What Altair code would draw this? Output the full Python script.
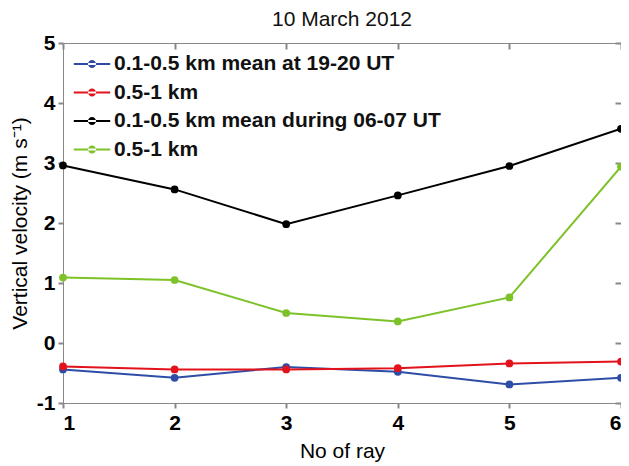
import altair as alt
import pandas as pd

rays = [1, 2, 3, 4, 5, 6]
yticks = [-1, 0, 1, 2, 3, 4, 5]
series_names = ["0.1-0.5 km mean at 19-20 UT", "0.5-1 km", "0.1-0.5 km mean during 06-07 UT", "0.5-1 km "]
series_colors = ["#2E4DA7", "#E3121B", "#000000", "#7DC229"]
blue_vals = [-0.44, -0.58, -0.40, -0.48, -0.69, -0.58]
red_vals = [-0.39, -0.44, -0.44, -0.42, -0.34, -0.31]
black_vals = [2.96, 2.56, 1.98, 2.46, 2.95, 3.57]
green_vals = [1.09, 1.05, 0.50, 0.36, 0.76, 2.94]

rows = []
for name, vals in zip(series_names, [blue_vals, red_vals, black_vals, green_vals]):
    for r, v in zip(rays, vals):
        rows.append({"ray": r, "v": v, "series": name})
df = pd.DataFrame(rows)

FONT = "Liberation Sans"
sym = "M-1.4,-0.077 L1.4,-0.077 L1.4,0.077 L-1.4,0.077 Z M-0.31,0 A0.31,0.31 0 1,0 0.31,0 A0.31,0.31 0 1,0 -0.31,0 Z"

color = alt.Color(
    "series:N",
    scale=alt.Scale(domain=series_names, range=series_colors),
    legend=alt.Legend(
        title=None, orient="none", legendX=16, legendY=8,
        symbolType=sym, symbolSize=676, symbolStrokeWidth=0,
        labelFont=FONT, labelFontSize=21, labelFontWeight="bold",
        labelColor="#111", rowPadding=5.5, labelOffset=9, labelLimit=500,
        padding=0,
    ),
)

xs = alt.Scale(domain=[1, 6], nice=False, zero=False)
ys = alt.Scale(domain=[-1, 5], nice=False, zero=False)
lab = "'' + datum.value"

base = alt.Chart(df)
lines = base.mark_line(strokeWidth=2).encode(
    x=alt.X("ray:Q", scale=xs, axis=alt.Axis(title="No of ray", values=rays, labelExpr=lab, tickSize=5, tickWidth=2, grid=False,
                                               labelFontWeight="bold", labelFontSize=21, labelPadding=4,
                                               titleFontWeight="normal", titleFontSize=21, titlePadding=7)),
    y=alt.Y("v:Q", scale=ys, axis=alt.Axis(title="Vertical velocity (m s⁻¹)", values=yticks, labelExpr=lab, tickSize=5, tickWidth=2, grid=False,
                                             labelFontWeight="bold", labelFontSize=21, labelPadding=3,
                                             titleFontWeight="normal", titleFontSize=21, titlePadding=6)),
    color=color,
    detail="series:N",
)
points = base.mark_point(filled=True, size=60, shape="circle", opacity=1).encode(
    x=alt.X("ray:Q", scale=xs),
    y=alt.Y("v:Q", scale=ys),
    color=color,
)
mirror = base.mark_point(opacity=0).encode(
    x=alt.X("ray:Q", scale=xs, axis=alt.Axis(orient="top", title=None, labels=False, values=rays, grid=False, tickSize={"expr": "-6"}, tickWidth=2)),
    y=alt.Y("v:Q", scale=ys, axis=alt.Axis(orient="right", title=None, labels=False, values=yticks, grid=False, tickSize={"expr": "-6"}, tickWidth=2)),
)

main = alt.layer(lines, points)
chart = alt.layer(main, mirror).resolve_axis(x="independent", y="independent").properties(
    width=558, height=360,
    title=alt.TitleParams("10 March 2012", font=FONT, fontSize=21, fontWeight="normal", offset=2, anchor="middle", color="#111"),
    autosize=alt.AutoSizeParams(type="none"),
    padding={"left": 55, "top": 35, "right": 0, "bottom": 62},
).configure_axis(
    domainColor="#000", domainWidth=2, tickColor="#000", grid=False,
    labelFont=FONT, titleFont=FONT, labelColor="#111", titleColor="#111",
).configure_view(stroke="#000", strokeWidth=2).configure(background="white")

chart.save("out.html", embed_options={"renderer": "svg", "actions": False})
